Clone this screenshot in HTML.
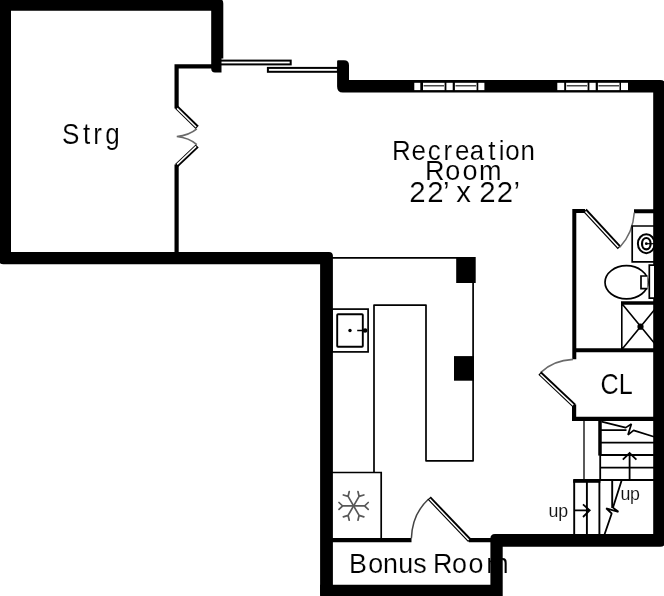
<!DOCTYPE html>
<html lang="en">
<head>
<meta charset="utf-8">
<title>Floor Plan</title>
<style>
html,body{margin:0;padding:0;background:#fff;width:664px;height:596px;overflow:hidden}
svg{display:block;will-change:transform}
text{font-family:"Liberation Sans",sans-serif;fill:#000;stroke:#fff;stroke-width:0.15px}
text.s{stroke-width:0.1px;fill:#111}
.w{fill:#000}
.l{fill:none;stroke:#000;stroke-width:1.7}
.t{fill:none;stroke:#000;stroke-width:4}
.g{fill:none;stroke:#6a6a6a;stroke-width:1.4}
.d{fill:#fff;stroke:#000;stroke-width:1.4}
</style>
</head>
<body>
<svg width="664" height="596" viewBox="0 0 664 596">
<rect width="664" height="596" fill="#fff"/>

<!-- labels -->
<text x="70.4 94.2 106.0 119.5" y="143.9" font-size="29.6" transform="scale(0.88 1)">Strg</text>
<text x="430.9 452.3 470.1 487.4 500.0 516.2 536.6 548.0 555.1 572.0" y="159.9" font-size="28.5" transform="scale(0.91 1)">Recreation</text>
<text x="433.8 454.4 471.9 488.7" y="180.5" font-size="27.6" transform="scale(0.98 1)">Room</text>
<text x="401.2 419.0 434.3 440.7 447.4 461.8 469.8 487.0 503.4" y="201.8" font-size="28.8" transform="scale(1.02 1)">22’ x 22’</text>
<text x="714.8 736.6" y="394.3" font-size="30" transform="scale(0.84 1)">CL</text>
<text x="363.6 383.5 399.1 414.8 430.6 444.6 451.0 470.9 487.9 506.4" y="573.0" font-size="28" transform="scale(0.96 1)">Bonus Room</text>
<text x="548.6 558.3" y="516.5" font-size="17.8" class="s">up</text>
<text x="620.4 630.1" y="500.2" font-size="17.8" class="s">up</text>

<!-- thick exterior walls -->
<g class="w">
  <!-- storage room + kitchen left wall -->
  <path d="M-1.5 -1.5H218.3Q223.3 -1.5 223.3 3.5V58.6H221.5V72.5H215Q211.2 72.5 211.2 68.5V10.8H11V251.9H329Q332.9 251.9 332.9 256V598H325Q320.1 598 320.1 593V264.3H3.5Q-1.5 264.3 -1.5 259.3Z"/>
  <!-- bonus room bottom + right part of house -->
  <path d="M320.1 584.7H490.4V538.5Q490.4 534 494.9 534H653.2V92.5H342.8Q337.1 92.5 337.1 86.5V61.2Q337.1 60.2 338.1 60.2H344Q349 60.2 349 65.2V80H660.2Q665.2 80 665.2 85V541.7Q665.2 546.7 660.2 546.7H502.7V598H320.1Z"/>
  <!-- kitchen posts -->
  <rect x="456.2" y="257" width="19.5" height="26"/>
  <rect x="454" y="356.1" width="20" height="24.6"/>
</g>

<!-- windows -->
<g fill="#fff">
  <rect x="414.3" y="82.8" width="6" height="7.3"/>
  <rect x="423" y="82.8" width="21.6" height="7.3"/>
  <rect x="446.4" y="82.8" width="6.3" height="7.3"/>
  <rect x="454.9" y="82.8" width="21.7" height="7.3"/>
  <rect x="478.3" y="82.8" width="6.1" height="7.3"/>
  <rect x="557.3" y="82.8" width="6.9" height="7.3"/>
  <rect x="566.1" y="82.8" width="21.5" height="7.3"/>
  <rect x="589.4" y="82.8" width="6.3" height="7.3"/>
  <rect x="597.9" y="82.8" width="21.6" height="7.3"/>
  <rect x="621" y="82.8" width="7" height="7.3"/>
</g>
<path d="M423.6 85.8H444M455.5 85.8H476M566.7 85.8H587M598.5 85.8H619" stroke="#4a4a4a" stroke-width="1.4" fill="none"/>

<!-- sliding door -->
<rect x="220.5" y="60.6" width="70.2" height="3.8" class="d" style="stroke-width:2"/>
<rect x="267.9" y="67.9" width="70" height="3.9" class="d" style="stroke-width:2"/>

<!-- storage thin wall and bifold door -->
<path d="M212 66.3H176.6V108.4M176.6 164.4V252" class="t" style="stroke-width:4.2"/>
<path d="M176.6 107.3L197.2 127.4" stroke="#000" stroke-width="4.4" fill="none"/><path d="M177.1 108.4L196.1 127.0" stroke="#fff" stroke-width="1.5" fill="none"/>
<path d="M197.2 146.0L176.6 165.5" stroke="#000" stroke-width="4.4" fill="none"/><path d="M196.1 146.4L177.1 164.4" stroke="#fff" stroke-width="1.5" fill="none"/>
<path d="M196.8 128.8Q189 135.3 176.8 136.5Q189 137.7 196.8 144.6" class="g" style="stroke-width:1.7"/>

<!-- kitchen -->
<path d="M332 257.8H457" class="l"/>
<path d="M473.1 282V460.8H426V305.1H374V472.5" class="l" style="stroke-linejoin:round"/>
<rect x="332" y="309.1" width="36.1" height="42.8" class="l"/>
<rect x="337.2" y="314.2" width="25.6" height="32.5" rx="0.8" class="l" style="stroke-width:1.9"/>
<circle cx="350" cy="330.5" r="1.7"/>
<path d="M357.2 330.5H364" class="l" style="stroke-width:1.5"/>
<circle cx="365.1" cy="330.5" r="2.3"/>
<!-- fridge -->
<path d="M332 472.5H381.2V539" class="l"/>
<g stroke="#585858" stroke-width="1.7" fill="none" stroke-linecap="round" transform="translate(353.6 505.9)">
  <g transform="rotate(0)"><path d="M0 0H11M14.6 -3.4L11 0L14.6 3.4"/></g>
  <g transform="rotate(60)"><path d="M0 0H11M14.6 -3.4L11 0L14.6 3.4"/></g>
  <g transform="rotate(120)"><path d="M0 0H11M14.6 -3.4L11 0L14.6 3.4"/></g>
  <g transform="rotate(180)"><path d="M0 0H11M14.6 -3.4L11 0L14.6 3.4"/></g>
  <g transform="rotate(240)"><path d="M0 0H11M14.6 -3.4L11 0L14.6 3.4"/></g>
  <g transform="rotate(300)"><path d="M0 0H11M14.6 -3.4L11 0L14.6 3.4"/></g>
</g>

<!-- bonus room thin wall + door -->
<path d="M332 540.1H411.5M468.8 540.1H491" class="t" style="stroke-width:4.1"/>
<path d="M411.4 538.3Q412.2 514 428.6 499" class="g" style="stroke:#444;stroke-width:1.5"/>
<path d="M429.2 498.0L469.7 540.4" stroke="#000" stroke-width="4.5" fill="none"/><path d="M429.7 499.1L468.7 539.9" stroke="#fff" stroke-width="1.5" fill="none"/>

<!-- bathroom -->
<path d="M574.3 359.2V211.1H585M634 211.2H654M574.3 350.2H654" class="t" style="stroke-width:4"/>
<path d="M585.0 210.4L619.4 247.6" stroke="#000" stroke-width="4.5" fill="none"/><path d="M585.5 211.5L618.4 247.1" stroke="#fff" stroke-width="1.5" fill="none"/>
<path d="M619.8 247.3Q633 233 634.3 212.5" class="g" style="stroke-width:1.5"/>
<path d="M654 226H632.2V261.8H654" class="l"/>
<ellipse cx="646.3" cy="243.7" rx="8.4" ry="9.5" class="l" style="stroke-width:2"/>
<ellipse cx="646.3" cy="243.7" rx="4.3" ry="5.7" class="l" style="stroke-width:2.2"/>
<circle cx="646.3" cy="243.7" r="1.4"/>
<path d="M646.3 243.7H654" class="l" style="stroke-width:1.2"/>
<ellipse cx="626.5" cy="282.3" rx="21.5" ry="16.6" class="l"/>
<path d="M654 265.2H649.3V298.2H654" class="d" style="stroke-width:1.7"/>
<path d="M647.5 276H641V288.6H647.5" class="d" style="stroke-width:1.7"/>
<!-- shower -->
<path d="M621 303H654" class="t" style="stroke-width:3.5"/>
<path d="M621.8 303V349M621.8 303.6L660 350M621.8 349.4L660 303" class="l" style="stroke-width:1.6"/>
<circle cx="640.5" cy="326.7" r="3.1"/>

<!-- closet -->
<path d="M574.1 404.5V418.8H654" class="t" style="stroke-width:4.2"/>
<path d="M573 359.3Q553 360.2 540.6 372.6" class="g" style="stroke-width:1.7"/>
<path d="M539.9 373.2L574.3 405.6" stroke="#000" stroke-width="4.5" fill="none"/><path d="M540.4 374.2L573.2 405.1" stroke="#fff" stroke-width="1.5" fill="none"/>

<!-- stairs -->
<path d="M600 420V455.6" class="t" style="stroke-width:3.5"/>
<path d="M584 420V479.5" class="l" style="stroke-width:1.3"/>
<path d="M600.2 455V480M601 430.1H626.5M601 442.7H654M601 455H654M601 467.6H654M600 480H654" class="l" style="stroke-width:1.8"/>
<path d="M601.5 421.6L625.7 427.6L631.4 424L628 434.8L633.6 430.4L654 436.8" class="l" style="stroke-width:1.7;stroke-linejoin:bevel"/>
<path d="M629.6 480V453M622.8 459.6L629.6 453L636.4 459.6" class="l" style="stroke-width:1.8"/>
<path d="M573.2 480.9H600.4" class="t" style="stroke-width:3.8"/>
<path d="M574.2 480V534.5M586.9 482V534.5M599.4 480V534.5M612.2 480V508" class="l" style="stroke-width:1.9"/>
<path d="M621.6 480.5L613 507.6L618.4 511.8L606.2 508.4L611.7 513.5L604.5 534.5" class="l" style="stroke-width:1.8;stroke-linejoin:bevel"/>
<path d="M574 510.4H589.3M583 504.4L589.7 510.4L583 517" class="l" style="stroke-width:1.8"/>
</svg>
</body>
</html>
